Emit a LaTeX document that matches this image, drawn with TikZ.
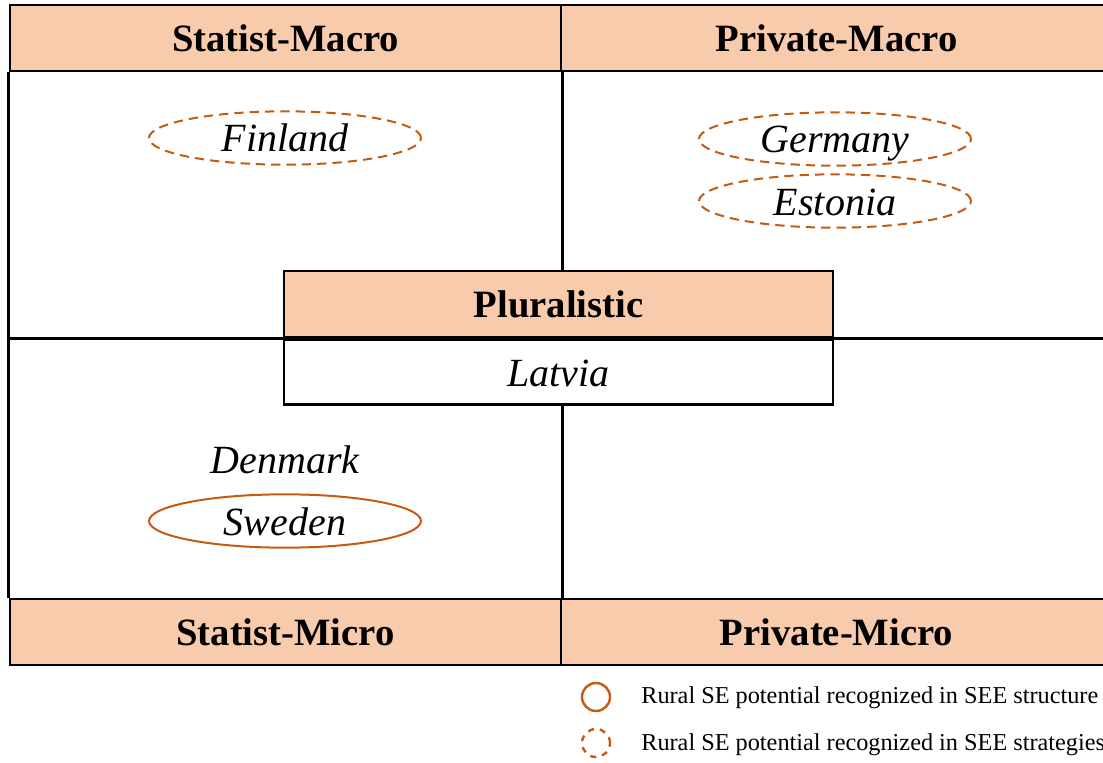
\documentclass[tikz,border=0pt]{standalone}
\usepackage{fontspec}
\setmainfont{Liberation Serif}
\usepackage{tikz}
\usetikzlibrary{shapes.geometric}
\definecolor{peach}{RGB}{248,203,173}
\definecolor{rust}{RGB}{197,90,17}

\begin{document}
\begin{tikzpicture}[x=0.75pt,y=-0.75pt,line width=2pt]
	\tikzstyle{box}=[rectangle,draw=black,line width=2pt,inner sep=0pt]
	\tikzstyle{header}=[box,fill=peach,minimum width=413.25pt,minimum height=49.5pt,font=\fontsize{29}{34}\selectfont\bfseries]
	\tikzstyle{country}=[font=\fontsize{30}{36}\selectfont\itshape,text height=24pt,text depth=3pt]
	\tikzstyle{recognized}=[country,ellipse,draw=rust,line width=1.5pt,minimum width=204pt,minimum height=40pt,inner sep=0pt]
	\tikzstyle{strategy}=[recognized,dash pattern=on 7pt off 4.5pt]
	\tikzstyle{legend}=[font=\fontsize{18.2}{22}\selectfont,anchor=west,inner sep=0pt]
	\tikzstyle{legend symbol}=[circle,draw=rust,line width=1.8pt,minimum size=21pt,inner sep=0pt]

	\useasboundingbox (0,0) rectangle (1103,763);

	% Draw the four corner headers
	\node[header] (SMa) at (285.5,38) {Statist-Macro};
	\node[header] (PMa) at (836.5,38) {Private-Macro};
	\node[header] (SMi) at (285.5,632) {Statist-Micro};
	\node[header] (PMi) at (836.5,632) {Private-Micro};

	% Draw the pluralistic box in the middle
	\node[header,minimum width=411.75pt] (Pl) at (558.5,304) {Pluralistic};
	\node[box,country,fill=white,minimum width=411.75pt,minimum height=48.75pt,anchor=north] (Lv) at (Pl.south) {Latvia};

	% Draw the frame and the cross
	\draw (SMa.south west) -- (SMi.north west);
	\draw (PMa.south east) -- (PMi.north east);
	\draw (SMa.south east) -- (SMa.south east |- Pl.north);
	\draw (SMi.north east |- Lv.south) -- (SMi.north east);
	\draw (SMa.west |- Pl.south) -- (Pl.south west);
	\draw (Pl.south east) -- (PMa.east |- Pl.south);

	% Draw the countries
	\foreach \name / \x / \y / \txt in {Fi/285/138/Finland, De/835/139/Germany, Es/835/201/Estonia}
	\node[strategy] (\name) at (\x,\y) {\txt};
	\node[country] (Dk) at (285,459) {Denmark};
	\node[recognized] (Se) at (285,521) {Sweden};

	% Legend
	\node[legend symbol] (L1) at (596,697) {};
	\node[legend symbol,dash pattern=on 4.5pt off 4.5pt] (L2) at (596,743) {};
	\node[legend] (T1) at (640,698) {Rural SE potential recognized in SEE structure};
	\node[legend] (T2) at (640,745) {Rural SE potential recognized in SEE strategies};
\end{tikzpicture}
\end{document}
